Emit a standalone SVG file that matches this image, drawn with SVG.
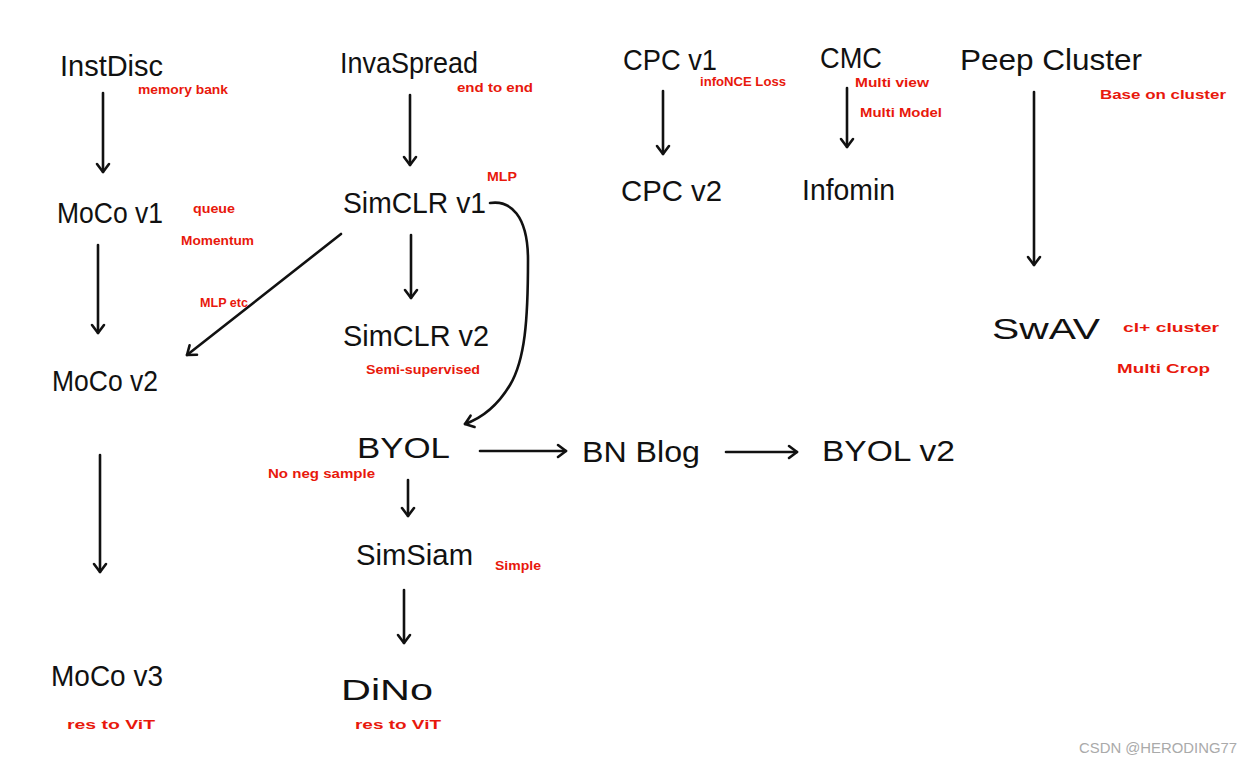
<svg xmlns="http://www.w3.org/2000/svg" width="1251" height="763" viewBox="0 0 1251 763">
<style>
.n{font-family:"Liberation Sans","DejaVu Sans",sans-serif;font-size:30px;fill:#111;}
.r{font-family:"Liberation Sans","DejaVu Sans",sans-serif;font-size:13px;font-weight:bold;fill:#e8180c;}
.c{fill:none;stroke:#111;stroke-width:2.6;stroke-linecap:round;stroke-linejoin:round;}
.wm{font-family:"Liberation Sans","DejaVu Sans",sans-serif;font-size:15px;fill:#aaa;}
</style>
<defs>
<marker id="ah" markerUnits="userSpaceOnUse" markerWidth="16" markerHeight="16" refX="11" refY="8" orient="auto">
<path d="M3,2 L11,8 L3,14" fill="none" stroke="#111" stroke-width="2.6" stroke-linecap="round" stroke-linejoin="round"/>
</marker>
</defs>
<rect width="1251" height="763" fill="#fff"/>
<g id="connectors">
<path class="c" d="M103,93 L103,172" marker-end="url(#ah)"/>
<path class="c" d="M98,245 L98,333" marker-end="url(#ah)"/>
<path class="c" d="M100,455 L100,572" marker-end="url(#ah)"/>
<path class="c" d="M410,95 L410,165" marker-end="url(#ah)"/>
<path class="c" d="M411,235 L411,298" marker-end="url(#ah)"/>
<path class="c" d="M341,234 L187,355" marker-end="url(#ah)"/>
<path class="c" d="M490,203 C510,200 528,215 528,260 C528,320 525,360 510,385 C498,405 482,418 465,424" marker-end="url(#ah)"/>
<path class="c" d="M480,451 L566,451" marker-end="url(#ah)"/>
<path class="c" d="M726,452 L797,452" marker-end="url(#ah)"/>
<path class="c" d="M408,480 L408,516" marker-end="url(#ah)"/>
<path class="c" d="M404,590 L404,643" marker-end="url(#ah)"/>
<path class="c" d="M663,91 L663,154" marker-end="url(#ah)"/>
<path class="c" d="M847,88 L847,147" marker-end="url(#ah)"/>
<path class="c" d="M1034,92 L1034,265" marker-end="url(#ah)"/>
</g>
<g id="InstDisc"><text class="n" x="60" y="76" textLength="103" lengthAdjust="spacingAndGlyphs">InstDisc</text><text class="r" x="138" y="94" textLength="90" lengthAdjust="spacingAndGlyphs">memory bank</text></g>
<g id="InvaSpread"><text class="n" x="340" y="73" textLength="138" lengthAdjust="spacingAndGlyphs">InvaSpread</text><text class="r" x="457" y="92" textLength="76" lengthAdjust="spacingAndGlyphs">end to end</text></g>
<g id="CPCv1"><text class="n" x="623" y="70" textLength="94" lengthAdjust="spacingAndGlyphs">CPC v1</text><text class="r" x="700" y="86" textLength="86" lengthAdjust="spacingAndGlyphs">infoNCE Loss</text></g>
<g id="CMC"><text class="n" x="820" y="68" textLength="62" lengthAdjust="spacingAndGlyphs">CMC</text><text class="r" x="855" y="87" textLength="74" lengthAdjust="spacingAndGlyphs">Multi view</text><text class="r" x="860" y="117" textLength="82" lengthAdjust="spacingAndGlyphs">Multi Model</text></g>
<g id="PeepCluster"><text class="n" x="960" y="70" textLength="182" lengthAdjust="spacingAndGlyphs">Peep Cluster</text><text class="r" x="1100" y="99" textLength="126" lengthAdjust="spacingAndGlyphs">Base on cluster</text></g>
<g id="MoCov1"><text class="n" x="57" y="223" textLength="106" lengthAdjust="spacingAndGlyphs">MoCo v1</text><text class="r" x="193" y="213" textLength="42" lengthAdjust="spacingAndGlyphs">queue</text><text class="r" x="181" y="245" textLength="73" lengthAdjust="spacingAndGlyphs">Momentum</text></g>
<g id="SimCLRv1"><text class="n" x="343" y="213" textLength="143" lengthAdjust="spacingAndGlyphs">SimCLR v1</text><text class="r" x="487" y="181" textLength="30" lengthAdjust="spacingAndGlyphs">MLP</text></g>
<g id="CPCv2"><text class="n" x="621" y="201" textLength="101" lengthAdjust="spacingAndGlyphs">CPC v2</text></g>
<g id="Infomin"><text class="n" x="802" y="200" textLength="93" lengthAdjust="spacingAndGlyphs">Infomin</text></g>
<g id="MoCov2"><text class="n" x="52" y="391" textLength="106" lengthAdjust="spacingAndGlyphs">MoCo v2</text><text class="r" x="200" y="307" textLength="48" lengthAdjust="spacingAndGlyphs">MLP etc</text></g>
<g id="SimCLRv2"><text class="n" x="343" y="346" textLength="146" lengthAdjust="spacingAndGlyphs">SimCLR v2</text><text class="r" x="366" y="374" textLength="114" lengthAdjust="spacingAndGlyphs">Semi-supervised</text></g>
<g id="SwAV"><text class="n" x="992" y="339" textLength="108" lengthAdjust="spacingAndGlyphs">SwAV</text><text class="r" x="1123" y="332" textLength="96" lengthAdjust="spacingAndGlyphs">cl+ cluster</text><text class="r" x="1117" y="373" textLength="93" lengthAdjust="spacingAndGlyphs">Multi Crop</text></g>
<g id="BYOL"><text class="n" x="357" y="458" textLength="93" lengthAdjust="spacingAndGlyphs">BYOL</text><text class="r" x="268" y="478" textLength="107" lengthAdjust="spacingAndGlyphs">No neg sample</text></g>
<g id="BNBlog"><text class="n" x="582" y="462" textLength="118" lengthAdjust="spacingAndGlyphs">BN Blog</text></g>
<g id="BYOLv2"><text class="n" x="822" y="461" textLength="133" lengthAdjust="spacingAndGlyphs">BYOL v2</text></g>
<g id="SimSiam"><text class="n" x="356" y="565" textLength="117" lengthAdjust="spacingAndGlyphs">SimSiam</text><text class="r" x="495" y="570" textLength="46" lengthAdjust="spacingAndGlyphs">Simple</text></g>
<g id="MoCov3"><text class="n" x="51" y="686" textLength="112" lengthAdjust="spacingAndGlyphs">MoCo v3</text><text class="r" x="67" y="729" textLength="88" lengthAdjust="spacingAndGlyphs">res to ViT</text></g>
<g id="DiNo"><text class="n" x="341" y="700" textLength="92" lengthAdjust="spacingAndGlyphs">DiNo</text><text class="r" x="355" y="729" textLength="86" lengthAdjust="spacingAndGlyphs">res to ViT</text></g>
<text class="wm" x="1079" y="753" textLength="158" lengthAdjust="spacingAndGlyphs">CSDN @HERODING77</text>
</svg>
